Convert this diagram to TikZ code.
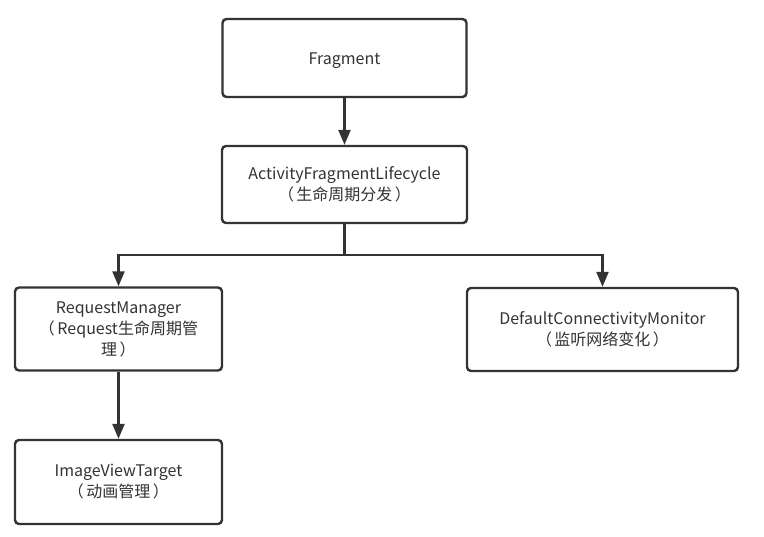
\documentclass[tikz,border=0pt]{standalone}
\usepackage{fontspec}
\setmainfont{Noto Sans CJK SC}
\usetikzlibrary{arrows.meta}
\definecolor{ink}{HTML}{333333}
\newcommand{\lp}{（\hspace{2.5pt}}
\newcommand{\rp}{\hspace{2.5pt}）}
\begin{document}
\begin{tikzpicture}[x=1pt,y=-1pt,
  box/.style={draw=ink,line width=2.4pt,rounded corners=4pt,fill=white,align=center,
    text=ink,font=\fontsize{16}{21}\selectfont,inner sep=0pt,
    execute at begin node={\rule{0pt}{18pt}}},
  conn/.style={draw=ink,line width=2.4pt,-{Triangle[length=15pt,width=12pt]}}]
\useasboundingbox (0,0) rectangle (764,537);
\node[box,minimum width=244pt,minimum height=78pt] (frag) at (344.5,58) {Fragment};
\node[box,minimum width=245pt,minimum height=77pt] (afl) at (344.5,184.5) {ActivityFragmentLifecycle\\\lp 生命周期分发\rp};
\node[box,minimum width=207pt,minimum height=83pt] (rm) at (118.5,329) {RequestManager\\\lp Request生命周期管\\理\rp};
\node[box,minimum width=271pt,minimum height=83pt] (dcm) at (602.5,329.5) {DefaultConnectivityMonitor\\\lp 监听网络变化\rp};
\node[box,minimum width=207pt,minimum height=84pt] (ivt) at (118.5,482) {ImageViewTarget\\\lp 动画管理\rp};
\coordinate (split) at (344.5,255);
\draw[conn] (frag) -- (afl);
\draw[draw=ink,line width=2.4pt] (afl.south) -- (split);
\draw[conn] (split) -| (rm.north);
\draw[conn] (split) -| (dcm.north);
\draw[conn] (rm) -- (ivt);
\end{tikzpicture}
\end{document}
